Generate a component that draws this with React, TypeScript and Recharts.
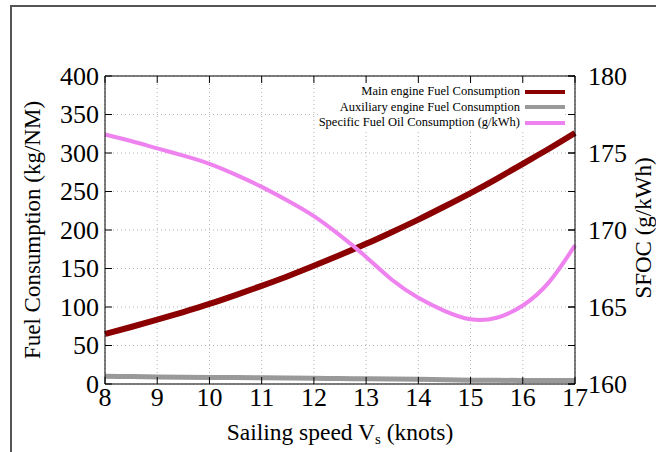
import {
  LineChart,
  Line,
  XAxis,
  YAxis,
  CartesianGrid,
  ReferenceLine,
} from "recharts";

const speeds = [8, 8.5, 9, 9.5, 10, 10.5, 11, 11.5, 12, 12.5, 13, 13.5, 14, 14.5, 15, 15.5, 16, 16.5, 17];
const mainEngine = [65, 74, 83.5, 93.5, 104, 115.5, 127.5, 140, 153.5, 167.5, 182, 197.5, 213.5, 230.5, 248, 266.5, 286, 305.5, 326];
const auxEngine = [10, 9.6, 9.2, 8.9, 8.6, 8.3, 8, 7.7, 7.4, 7.1, 6.8, 6.5, 6.2, 5.6, 5, 4.8, 4.6, 4.5, 4.5];
const sfoc = [176.2, 175.78, 175.3, 174.83, 174.3, 173.6, 172.8, 171.9, 170.9, 169.65, 168.25, 166.75, 165.6, 164.75, 164.2, 164.3, 165.1, 166.6, 169.0];

const xTicks = [8, 9, 10, 11, 12, 13, 14, 15, 16, 17];
const leftTicks = [0, 50, 100, 150, 200, 250, 300, 350, 400];
const rightTicks = [160, 165, 170, 175, 180];

const seriesNames = {
  main: "Main engine Fuel Consumption",
  aux: "Auxiliary engine Fuel Consumption",
  sfoc: "Specific Fuel Oil Consumption (g/kWh)",
};
const seriesColors = { main: "#8b0000", aux: "#999999", sfoc: "#ee82ee" };

const data = speeds.map((s, i) => ({
  speed: s,
  main: mainEngine[i],
  aux: auxEngine[i],
  sfoc: sfoc[i],
}));

const FONT = "Liberation Serif";
// plot box (px) – only for the small inward tick marks
const PL = 105, PR = 575, PT = 76, PB = 384;
const TICK = 7;

function LeftTick({ x, y, payload }: any) {
  return (
    <g>
      <line x1={PL} x2={PL + TICK} y1={y} y2={y} stroke="#000" />
      <line x1={PR} x2={PR - TICK} y1={y} y2={y} stroke="#000" />
      <text x={x} y={y} dy={8.5} textAnchor="end" fontFamily={FONT} fontSize={26} fill="#000">
        {payload.value}
      </text>
    </g>
  );
}

function RightTick({ x, y, payload }: any) {
  return (
    <g>
      <line x1={PR} x2={PR - TICK} y1={y} y2={y} stroke="#000" />
      <text x={x} y={y} dy={8.5} textAnchor="start" fontFamily={FONT} fontSize={26} fill="#000">
        {payload.value}
      </text>
    </g>
  );
}

function BottomTick({ x, y, payload }: any) {
  return (
    <g>
      <line x1={x} x2={x} y1={PB} y2={PB - TICK} stroke="#000" />
      <line x1={x} x2={x} y1={PT} y2={PT + TICK} stroke="#000" />
      <text x={x} y={y} dy={18} textAnchor="middle" fontFamily={FONT} fontSize={26} fill="#000">
        {payload.value}
      </text>
    </g>
  );
}

function LegendBox() {
  const keys = ["main", "aux", "sfoc"] as const;
  return (
    <div
      style={{
        position: "absolute",
        top: 84,
        right: 91,
        fontFamily: FONT,
        fontSize: 12.5,
        color: "#000",
        background: "#fff",
      }}
    >
      {keys.map((k) => (
        <div key={k} style={{ display: "flex", alignItems: "center", justifyContent: "flex-end", height: 15.5 }}>
          <span style={{ whiteSpace: "nowrap" }}>{seriesNames[k]}</span>
          <span style={{ display: "inline-block", width: 40, height: 4, background: seriesColors[k], marginLeft: 5 }} />
        </div>
      ))}
    </div>
  );
}

export default function App() {
  return (
    <div
      style={{
        position: "absolute",
        left: 0,
        top: 0,
        width: 656,
        height: 452,
        background: "#fff",
        overflow: "hidden",
        fontFamily: FONT,
      }}
    >
      <div
        style={{
          position: "absolute",
          left: 10,
          top: 5,
          width: 700,
          height: 500,
          borderTop: "2px solid #555",
          borderLeft: "2px solid #555",
        }}
      />
      <LineChart
        width={656}
        height={452}
        data={data}
        margin={{ top: 76, right: 21, bottom: 28, left: 45 }}
      >
        <CartesianGrid stroke="#b5b5b5" strokeDasharray="1 3" yAxisId="left" />
        <XAxis
          dataKey="speed"
          type="number"
          domain={[8, 17]}
          ticks={xTicks}
          interval={0}
          height={40}
          tickSize={0}
          tickMargin={4}
          tick={<BottomTick />}
          axisLine={{ stroke: "#000" }}
          label={{
            content: () => (
              <text x={340} y={440} textAnchor="middle" fontFamily={FONT} fontSize={23.5} fill="#000">
                <tspan>Sailing speed V</tspan>
                <tspan fontSize={15} dy={4}>s</tspan>
                <tspan dy={-4}> (knots)</tspan>
              </text>
            ),
          }}
        />
        <YAxis
          yAxisId="left"
          domain={[0, 400]}
          ticks={leftTicks}
          interval={0}
          width={60}
          tickSize={0}
          tickMargin={6}
          tick={<LeftTick />}
          axisLine={{ stroke: "#000" }}
          label={{
            content: () => (
              <text x={40} y={230} transform="rotate(-90 40 230)" textAnchor="middle" fontFamily={FONT} fontSize={23} fill="#000">
                Fuel Consumption (kg/NM)
              </text>
            ),
          }}
        />
        <YAxis
          yAxisId="right"
          orientation="right"
          domain={[160, 180]}
          ticks={rightTicks}
          interval={0}
          width={60}
          tickSize={0}
          tickMargin={13}
          tick={<RightTick />}
          axisLine={{ stroke: "#000" }}
          label={{
            content: () => (
              <text x={651} y={228} transform="rotate(-90 651 228)" textAnchor="middle" fontFamily={FONT} fontSize={23} fill="#000">
                SFOC (g/kWh)
              </text>
            ),
          }}
        />
        <ReferenceLine yAxisId="left" y={400} stroke="#000" />
        <Line
          yAxisId="left"
          dataKey="aux"
          name={seriesNames.aux}
          type="natural"
          stroke={seriesColors.aux}
          strokeWidth={5}
          dot={false}
          isAnimationActive={false}
        />
        <Line
          yAxisId="left"
          dataKey="main"
          name={seriesNames.main}
          type="natural"
          stroke={seriesColors.main}
          strokeWidth={6}
          dot={false}
          isAnimationActive={false}
        />
        <Line
          yAxisId="right"
          dataKey="sfoc"
          name={seriesNames.sfoc}
          type="natural"
          stroke={seriesColors.sfoc}
          strokeWidth={4}
          dot={false}
          isAnimationActive={false}
        />
      </LineChart>
      <LegendBox />
    </div>
  );
}
